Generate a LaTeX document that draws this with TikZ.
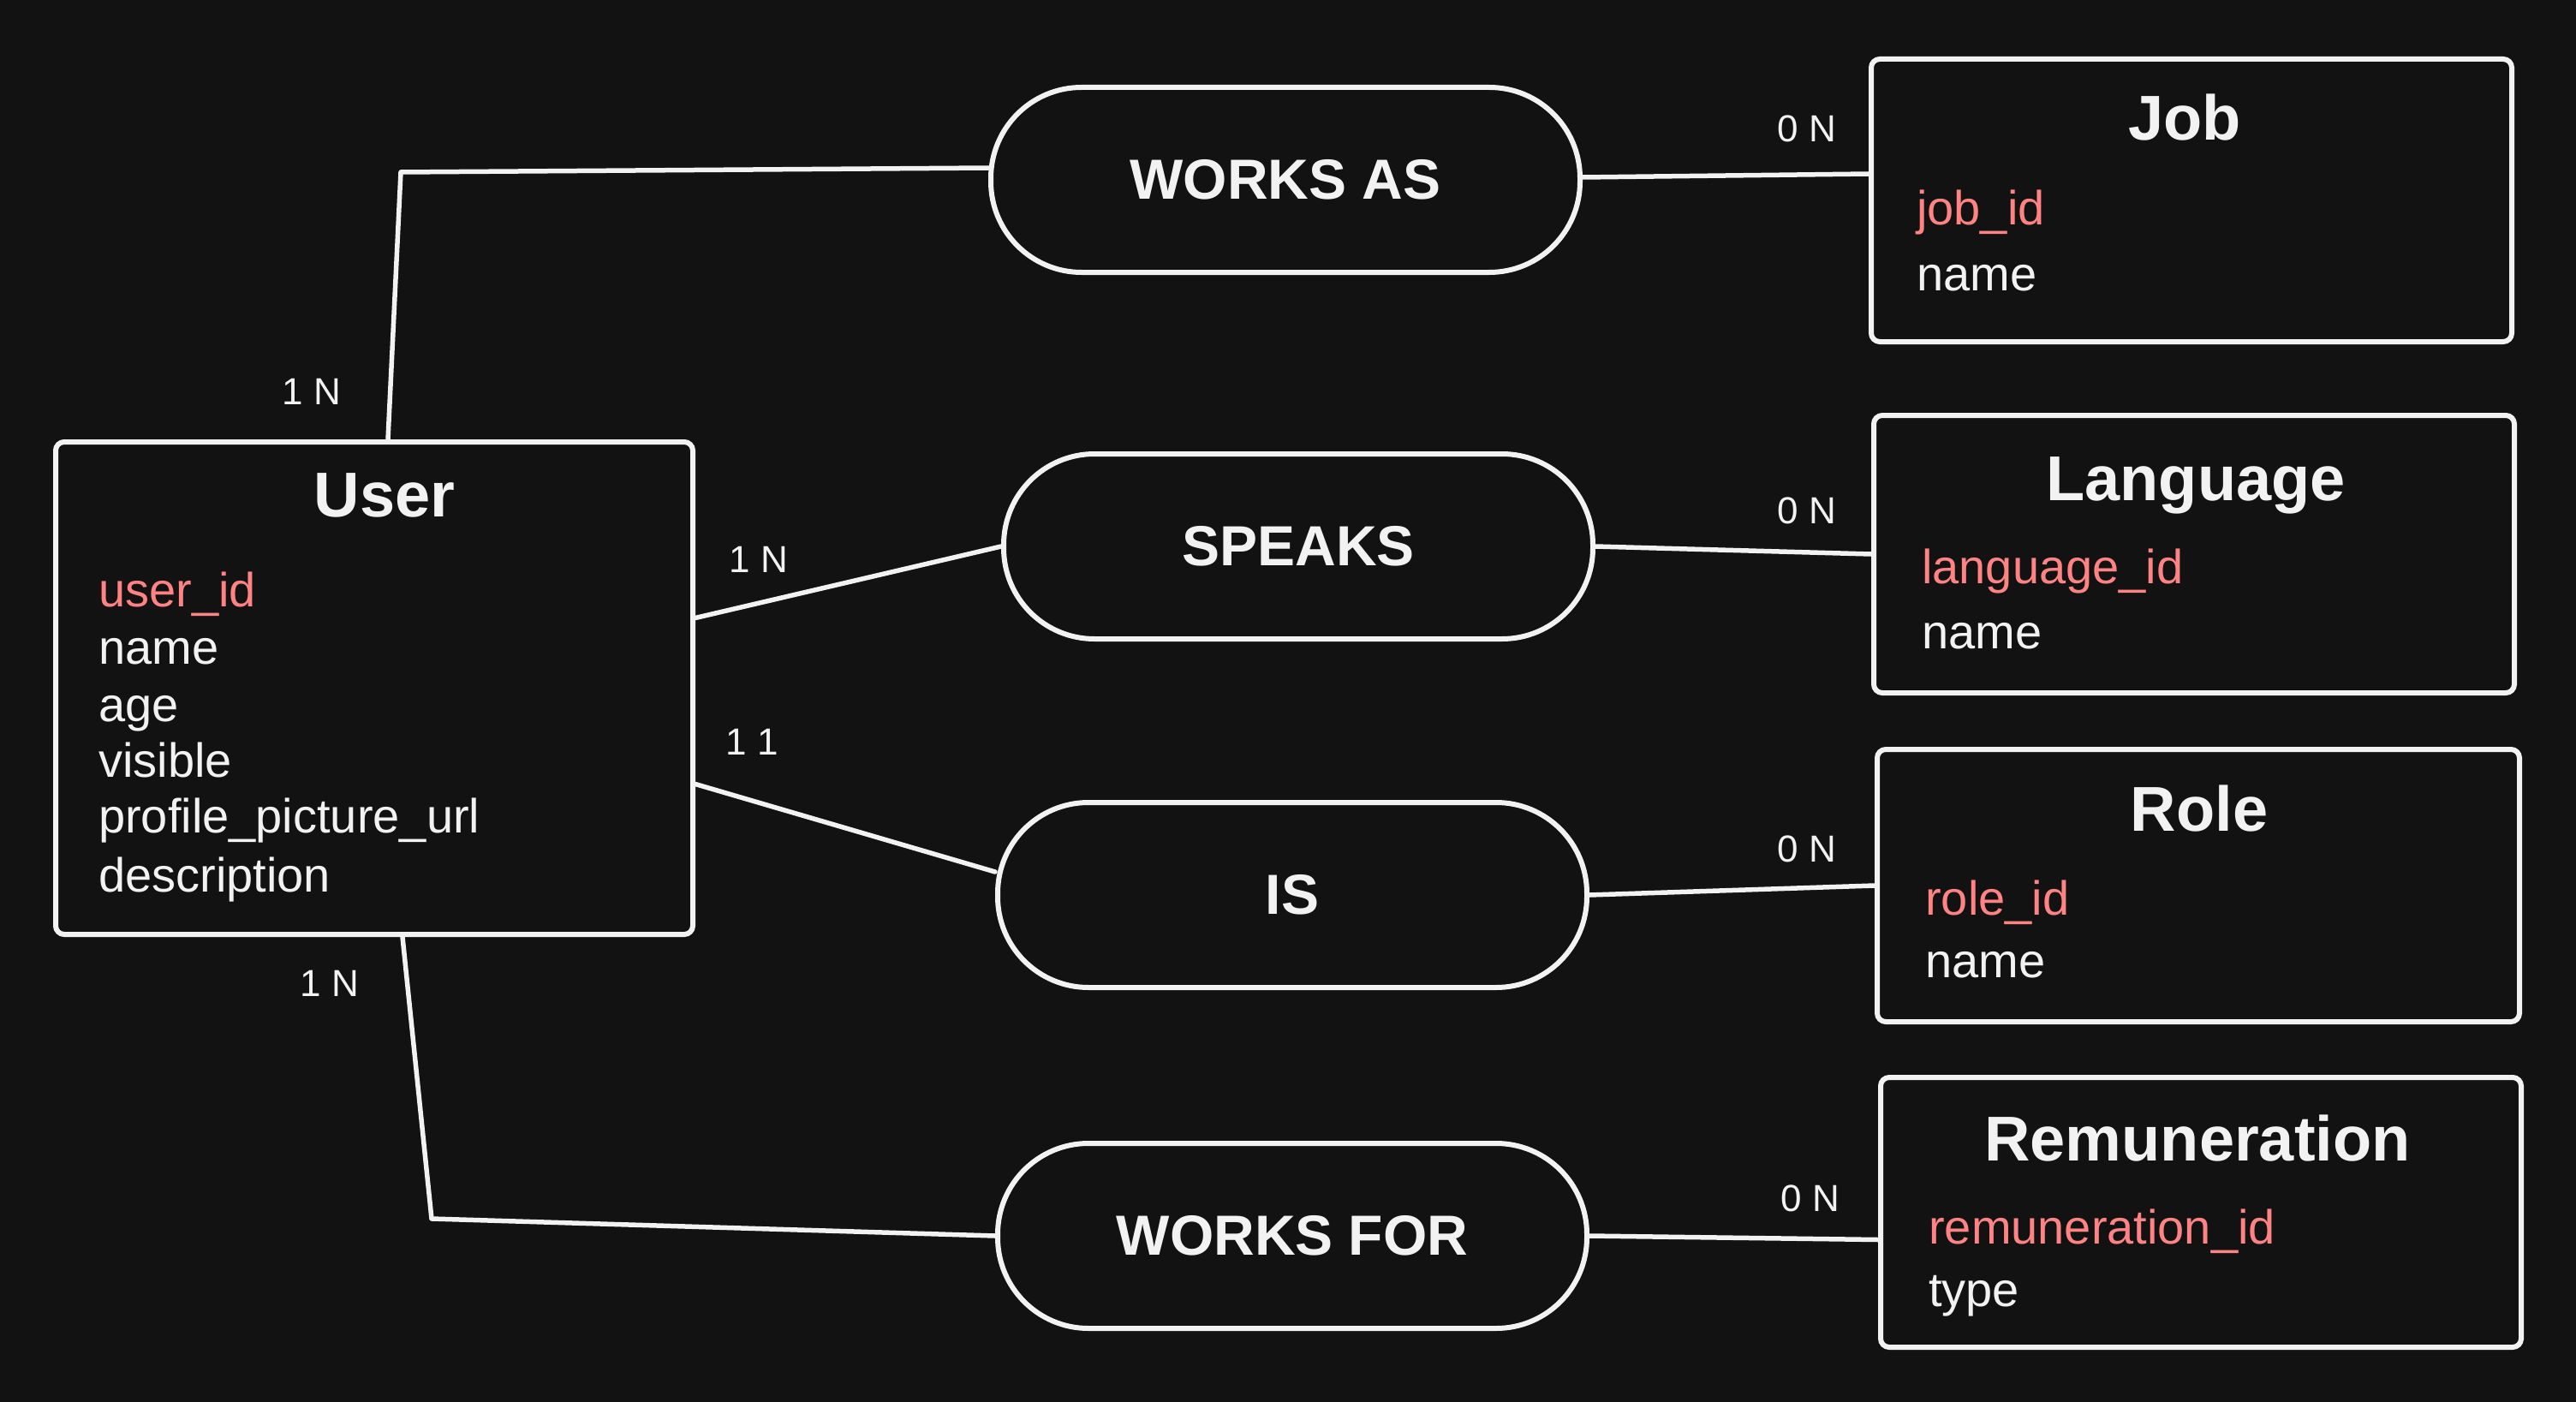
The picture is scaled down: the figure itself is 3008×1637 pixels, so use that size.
\documentclass[tikz,border=0pt]{standalone}
\usepackage{fontspec}
\setmainfont{Liberation Sans}
\definecolor{bg}{HTML}{121212}
\definecolor{ink}{HTML}{F2F2F2}
\definecolor{pk}{HTML}{FF8383}
\tikzset{
  entity/.style={draw=ink, line width=6pt, rounded corners=10pt, fill=bg, inner sep=0pt},
  rel/.style={draw=ink, line width=6pt, rounded corners=106pt, minimum width=688pt, minimum height=216pt, fill=bg, text=ink, inner sep=0pt, font=\bfseries\fontsize{66}{72}\selectfont},
  etitle/.style={text=ink, anchor=base, inner sep=0pt, font=\bfseries\fontsize{74}{80}\selectfont},
  attr/.style={text=ink, anchor=base west, inner sep=0pt, font=\fontsize{56}{62}\selectfont},
  pkey/.style={attr, text=pk},
  card/.style={text=ink, anchor=base, inner sep=0pt, font=\fontsize{44}{50}\selectfont},
  conn/.style={draw=ink, line width=5.5pt, line cap=round, line join=round}
}
\begin{document}
\begin{tikzpicture}[x=1pt,y=-1pt]
\fill[bg] (0,0) rectangle (3008,1637);
\useasboundingbox (0,0) rectangle (3008,1637);

% entities
\node[entity, minimum width=744pt, minimum height=575pt] (user) at (437,803.5) {};
\node[entity, minimum width=748pt, minimum height=330pt] (job) at (2559,234) {};
\node[entity, minimum width=748pt, minimum height=324pt] (lang) at (2562,647) {};
\node[entity, minimum width=750pt, minimum height=318pt] (role) at (2567,1034) {};
\node[entity, minimum width=748pt, minimum height=315pt] (remu) at (2570,1415.5) {};

% relationships
\node[rel] (worksas) at (1501,210) {WORKS AS};
\node[rel] (speaks) at (1516,638) {SPEAKS};
\node[rel] (is) at (1509,1045) {IS};
\node[rel] (worksfor) at (1509,1443) {WORKS FOR};

% User text
\node[etitle] (usert) at (449,603) {User};
\node[pkey] (u1) at (115,708) {user\_id};
\node[attr] (u2) at (115,775) {name};
\node[attr] (u3) at (115,842) {age};
\node[attr] (u4) at (115,907) {visible};
\node[attr] (u5) at (115,972) {profile\_picture\_url};
\node[attr] (u6) at (115,1041) {description};

% Job text
\node[etitle] (jobt) at (2551,164) {Job};
\node[pkey] (j1) at (2238,262) {job\_id};
\node[attr] (j2) at (2238,339) {name};

% Language text
\node[etitle] (langt) at (2564,584) {Language};
\node[pkey] (l1) at (2244,681) {language\_id};
\node[attr] (l2) at (2244,757) {name};

% Role text
\node[etitle] (rolet) at (2568,970) {Role};
\node[pkey] (r1) at (2248,1068) {role\_id};
\node[attr] (r2) at (2248,1141) {name};

% Remuneration text
\node[etitle] (remut) at (2566,1355) {Remuneration};
\node[pkey] (m1) at (2252,1452) {remuneration\_id};
\node[attr] (m2) at (2252,1525) {type};

% bends
\coordinate (b1) at (468,201);
\coordinate (b2) at (504,1423);

% connectors
\draw[conn] ([xshift=16pt]user.north) -- (b1) -- ([yshift=14pt]worksas.west);
\draw[conn] ([yshift=82pt]user.east) -- (speaks.west);
\draw[conn] ([yshift=-112pt]user.east) -- ([yshift=27pt]is.west);
\draw[conn] ([xshift=33pt]user.south) -- (b2) -- (worksfor.west);
\draw[conn] ([yshift=3pt]worksas.east) -- ([yshift=31pt]job.west);
\draw[conn] (speaks.east) -- (lang.west);
\draw[conn] (is.east) -- (role.west);
\draw[conn] (worksfor.east) -- ([yshift=-32pt]remu.west);

% cardinalities
\node[card] (c1) at (364,472) {1 N};
\node[card] (c2) at (886,668) {1 N};
\node[card] (c3) at (878,881) {1 1};
\node[card] (c4) at (385,1163) {1 N};
\node[card] (c5) at (2110,166) {0 N};
\node[card] (c6) at (2110,611) {0 N};
\node[card] (c7) at (2110,1006) {0 N};
\node[card] (c8) at (2114,1414) {0 N};
\end{tikzpicture}
\end{document}
